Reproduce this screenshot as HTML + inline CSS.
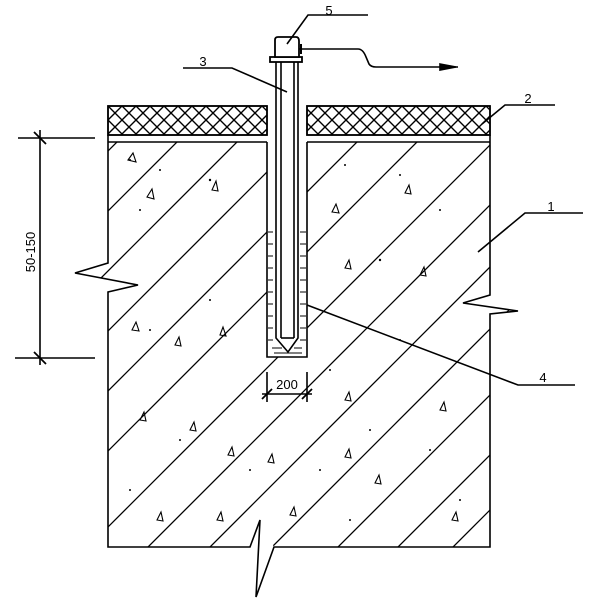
<!DOCTYPE html>
<html><head><meta charset="utf-8"><style>
html,body{margin:0;padding:0;background:#fff;width:605px;height:602px;overflow:hidden;}
svg{display:block;}
text{font-family:"Liberation Sans",sans-serif;fill:#000;}
</style></head><body>
<svg width="605" height="602" viewBox="0 0 605 602" xmlns="http://www.w3.org/2000/svg">
<defs>
<pattern id="xh" width="14" height="14" patternUnits="userSpaceOnUse" x="108" y="106">
<path d="M0,0 L14,14 M14,0 L0,14" stroke="#000" stroke-width="1.4"/>
</pattern>
<clipPath id="conc">
<path d="M108,142 H267 V357 H307 V142 H490 V295 L463,303 L518,311 L490,314 V547 H274 L260,520 L250,547 H108 V292 L138,285 L75,273 L108,263 Z"/>
</clipPath>
</defs>
<g stroke="#000" fill="none" stroke-width="1.6">
<rect x="108" y="106" width="159" height="29" fill="url(#xh)"/>
<rect x="307" y="106" width="183" height="29" fill="url(#xh)"/>
<rect x="108" y="106" width="159" height="29"/>
<rect x="307" y="106" width="183" height="29"/>
<line x1="108" y1="142" x2="267" y2="142"/>
<line x1="307" y1="142" x2="490" y2="142"/>
<line x1="108" y1="135" x2="108" y2="142"/>
<line x1="490" y1="135" x2="490" y2="142"/>
<g clip-path="url(#conc)" stroke-width="1.3">
<line x1="0" y1="259" x2="259" y2="0"/>
<line x1="0" y1="319" x2="319" y2="0"/>
<line x1="0" y1="379" x2="379" y2="0"/>
<line x1="0" y1="439" x2="439" y2="0"/>
<line x1="0" y1="499" x2="499" y2="0"/>
<line x1="0" y1="559" x2="559" y2="0"/>
<line x1="0" y1="635" x2="635" y2="0"/>
<line x1="0" y1="695" x2="695" y2="0"/>
<line x1="0" y1="757" x2="757" y2="0"/>
<line x1="0" y1="819" x2="819" y2="0"/>
<line x1="0" y1="885" x2="885" y2="0"/>
<line x1="0" y1="945" x2="945" y2="0"/>
<line x1="0" y1="1000" x2="1000" y2="0"/>
</g>
<path d="M108,142 V263 L75,273 L138,285 L108,292 V547 H250 L260,520 L256,597 L274,547 H490 V314 L518,311 L463,303 L490,295 V142"/>
<path d="M267,142 V357 H307 V142"/>
<g stroke-width="1">
<path d="M268,232h5M268,244h5M268,256h5M268,268h5M268,280h5M268,292h5M268,304h5M268,316h5M268,328h5M268,340h5M300,232h6M300,244h6M300,256h6M300,268h6M300,280h6M300,292h6M300,304h6M300,316h6M300,328h6M300,340h6M272,348h10M294,348h8M274,353h28"/>
</g>
<path d="M276,62 V338 L288,352 L298,338 V62" fill="#fff"/>
<line x1="281" y1="62" x2="281" y2="338"/>
<line x1="294" y1="62" x2="294" y2="338"/>
<line x1="281" y1="338" x2="294" y2="338"/>
<rect x="270" y="57" width="32" height="5" fill="#fff" stroke-width="1.8"/>
<path d="M275,57 V40 Q275,37 278,37 H296 Q299,37 299,41 V57 Z" fill="#fff" stroke-width="1.8"/>
<line x1="301" y1="44" x2="301" y2="54" stroke-width="2"/>
<path d="M299,49 H358 Q363,49 366,57 L369,64 Q371,67 376,67 H458"/>
<path d="M440,64 L456,67 L440,70 Z" fill="#000"/>
<path d="M368,15 H308 L287,44"/>
<path d="M183,68 H232 L287,92"/>
<path d="M555,105 H505 L482,124"/>
<path d="M583,213 H525 L478,252"/>
<path d="M575,385 H518 L307,305"/>
<line x1="40" y1="130" x2="40" y2="365"/>
<line x1="18" y1="138" x2="95" y2="138"/>
<line x1="15" y1="358" x2="95" y2="358"/>
<line x1="34" y1="132" x2="46" y2="144" stroke-width="1.8"/>
<line x1="34" y1="352" x2="46" y2="364" stroke-width="1.8"/>
<line x1="267" y1="372" x2="267" y2="402"/>
<line x1="307" y1="372" x2="307" y2="402"/>
<line x1="262" y1="394" x2="312" y2="394"/>
<line x1="262" y1="399" x2="272" y2="389" stroke-width="1.8"/>
<line x1="302" y1="399" x2="312" y2="389" stroke-width="1.8"/>
</g>
<g fill="#000">
<circle cx="130" cy="160" r="1"/><circle cx="160" cy="170" r="1"/><circle cx="210" cy="180" r="1.2"/><circle cx="140" cy="210" r="1"/><circle cx="345" cy="165" r="1"/><circle cx="400" cy="175" r="1"/><circle cx="440" cy="210" r="1"/><circle cx="210" cy="300" r="1"/><circle cx="380" cy="260" r="1.2"/><circle cx="150" cy="330" r="1"/><circle cx="330" cy="370" r="1"/><circle cx="400" cy="340" r="1"/><circle cx="180" cy="440" r="1"/><circle cx="250" cy="470" r="1"/><circle cx="320" cy="470" r="1"/><circle cx="370" cy="430" r="1"/><circle cx="430" cy="450" r="1"/><circle cx="460" cy="500" r="1"/><circle cx="130" cy="490" r="1"/><circle cx="350" cy="520" r="1"/>
</g>
<g stroke="#000" fill="none" stroke-width="1.1">
<path d="M128,160 l5,-7 l3,9 z"/><path d="M147,197 l5,-8 l2,10 z"/><path d="M212,190 l4,-9 l2,10 z"/><path d="M332,212 l4,-8 l3,9 z"/><path d="M405,193 l4,-8 l2,9 z"/><path d="M345,268 l4,-8 l2,9 z"/><path d="M420,275 l4,-8 l2,9 z"/><path d="M132,330 l4,-8 l3,9 z"/><path d="M175,345 l4,-8 l2,9 z"/><path d="M220,335 l3,-8 l3,9 z"/><path d="M140,420 l4,-8 l2,9 z"/><path d="M190,430 l4,-8 l2,9 z"/><path d="M228,455 l4,-8 l2,9 z"/><path d="M268,462 l4,-8 l2,9 z"/><path d="M345,457 l4,-8 l2,9 z"/><path d="M375,483 l4,-8 l2,9 z"/><path d="M440,410 l4,-8 l2,9 z"/><path d="M157,520 l4,-8 l2,9 z"/><path d="M217,520 l4,-8 l2,9 z"/><path d="M290,515 l4,-8 l2,9 z"/><path d="M452,520 l4,-8 l2,9 z"/><path d="M345,400 l4,-8 l2,9 z"/>
</g>
<text x="329" y="15" font-size="13" text-anchor="middle">5</text>
<text x="203" y="66" font-size="13" text-anchor="middle">3</text>
<text x="528" y="103" font-size="13" text-anchor="middle">2</text>
<text x="551" y="211" font-size="13" text-anchor="middle">1</text>
<text x="543" y="382" font-size="13" text-anchor="middle">4</text>
<text x="287" y="389" font-size="13" text-anchor="middle">200</text>
<text x="0" y="0" font-size="13" text-anchor="middle" transform="translate(35,252) rotate(-90)">50-150</text>
</svg>
</body></html>
